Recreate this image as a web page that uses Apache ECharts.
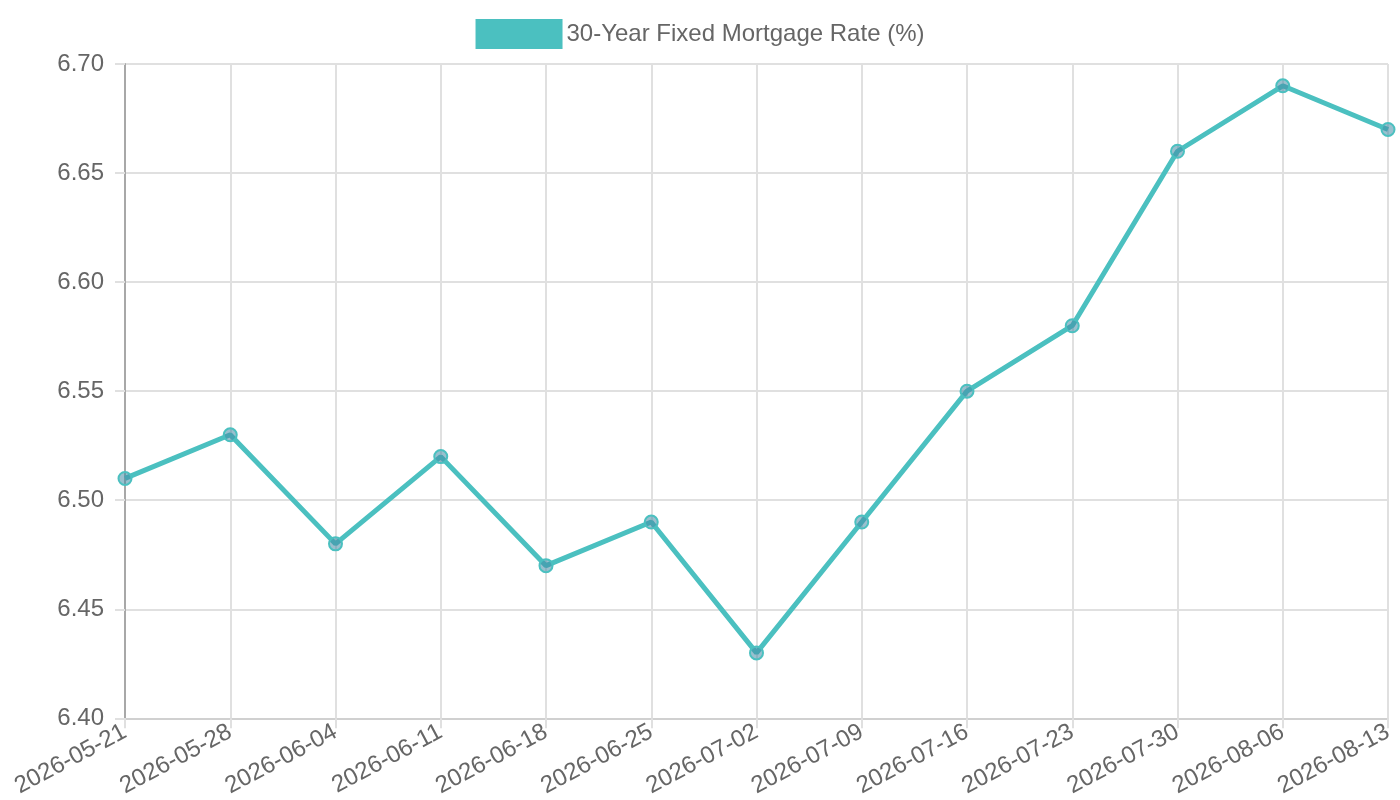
<!DOCTYPE html>
<html lang="en">
<head>
    <meta charset="UTF-8">
    <title>mortgage rate</title>
    <script src="https://cdn.jsdelivr.net/npm/echarts@6/dist/echarts.min.js"></script>
</head>
<body style="margin:0">
<div id="main" style="width: 1400px;height:800px;"></div>
<script>
    const dates = ['2026-05-21', '2026-05-28', '2026-06-04', '2026-06-11', '2026-06-18', '2026-06-25', '2026-07-02',
        '2026-07-09', '2026-07-16', '2026-07-23', '2026-07-30', '2026-08-06', '2026-08-13'];
    const rates = [6.51, 6.53, 6.48, 6.52, 6.47, 6.49, 6.43, 6.49, 6.55, 6.58, 6.66, 6.69, 6.67];
    const seriesName = '30-Year Fixed Mortgage Rate (%)';

    const myChart = echarts.init(document.getElementById('main'));
    const font = 'Liberation Sans, Arial, sans-serif';
    option = {
        animation: false,
        textStyle: {fontFamily: font},
        legend: {
            top: 14,
            left: 'center',
            itemWidth: 85,
            itemHeight: 28,
            itemGap: 10,
            icon: 'rect',
            textStyle: {color: '#666', fontSize: 24, fontFamily: font},
            data: [{name: seriesName, itemStyle: {color: '#4BC0C0'}}]
        },
        grid: {left: 125, right: 12, top: 64, bottom: 81, containLabel: false},
        xAxis: {
            type: 'category',
            data: dates,
            boundaryGap: false,
            axisLine: {lineStyle: {color: '#d0d0d0', width: 2}},
            axisTick: {show: true, length: 10, lineStyle: {color: '#e0e0e0', width: 2}},
            splitLine: {show: true, lineStyle: {color: '#e0e0e0', width: 2}},
            axisLabel: {
                color: '#666', fontSize: 24, rotate: 28, margin: 12,
                interval: 0, fontFamily: font
            }
        },
        yAxis: {
            type: 'value',
            min: 6.40,
            max: 6.70,
            interval: 0.05,
            axisLine: {show: true, lineStyle: {color: '#a8a8a8', width: 2}},
            axisTick: {show: true, length: 10, lineStyle: {color: '#e0e0e0', width: 2}},
            splitLine: {lineStyle: {color: '#e0e0e0', width: 2}},
            axisLabel: {
                color: '#666', fontSize: 24, margin: 21, fontFamily: font,
                formatter: v => v.toFixed(2)
            }
        },
        series: [{
            name: seriesName,
            type: 'line',
            data: rates,
            symbol: 'circle',
            symbolSize: 13,
            lineStyle: {color: '#4BC0C0', width: 5},
            itemStyle: {color: 'rgba(70,140,165,0.55)', borderColor: '#4BC0C0', borderWidth: 2},
            emphasis: {disabled: true}
        }]
    };
    myChart.setOption(option);
</script>
</body>
</html>
